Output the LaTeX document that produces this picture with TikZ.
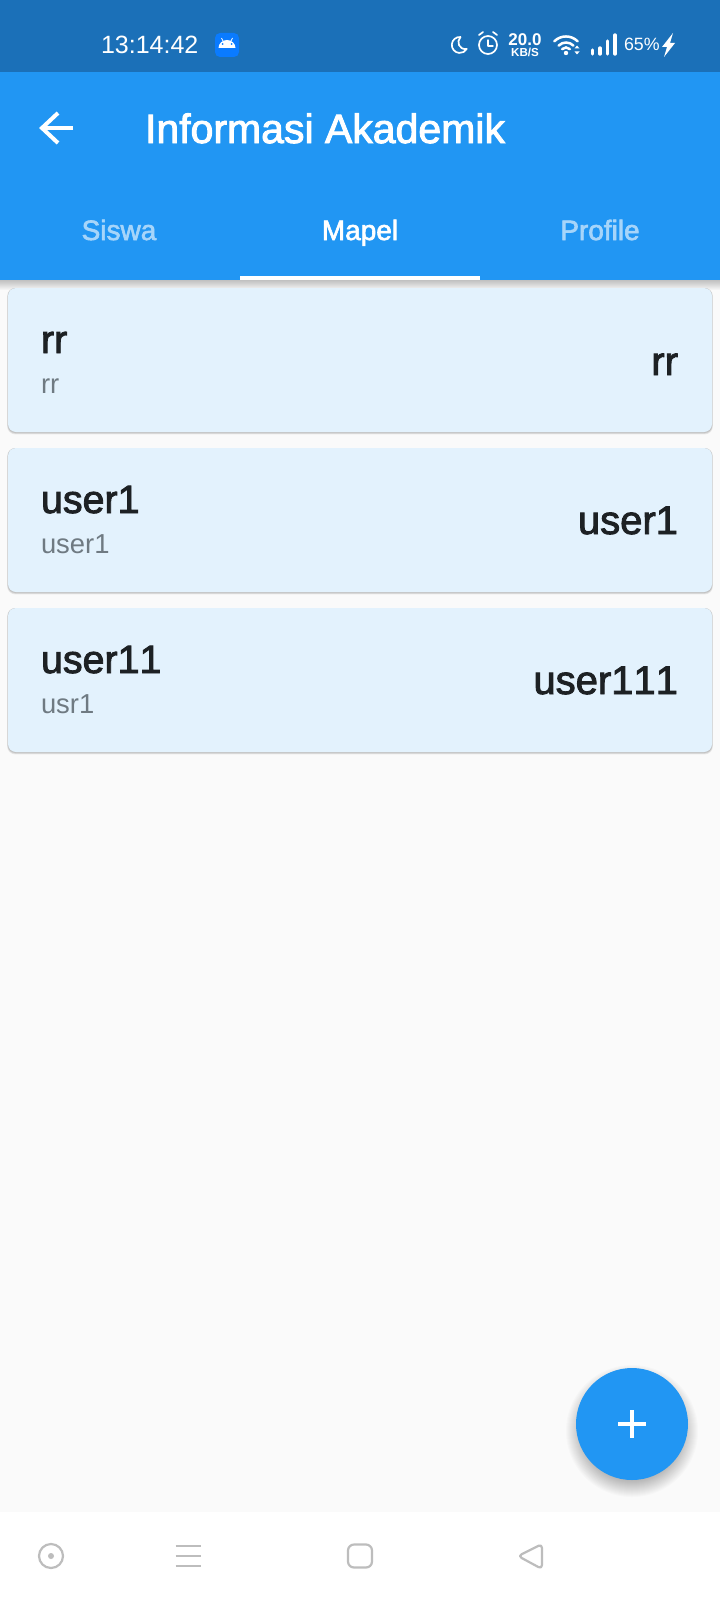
\documentclass[tikz,border=0pt]{standalone}
\usepackage{fontspec}
\setmainfont{Liberation Sans}
\newfontfamily\medfont[FakeBold=2.2]{Liberation Sans}
\newfontfamily\cardfont[FakeBold=2.2,Kerning=Off]{Liberation Sans}
\usetikzlibrary{backgrounds,fit}
\pgfdeclarelayer{edgelayer}
\pgfdeclarelayer{nodelayer}
\pgfsetlayers{edgelayer,main,nodelayer}
\definecolor{pagegrey}{HTML}{FAFAFA}
\definecolor{statusblue}{HTML}{1B70B8}
\definecolor{barblue}{HTML}{2196F3}
\definecolor{cardblue}{HTML}{E3F2FD}
\definecolor{inktext}{HTML}{1D2124}
\definecolor{subtext}{HTML}{6F7A82}
\definecolor{tabdim}{HTML}{A6D5FA}
\definecolor{navgrey}{HTML}{BDBDBD}
\definecolor{droidblue}{HTML}{0A7BFF}
\tikzstyle{none}=[inner sep=0pt,outer sep=0pt]
\tikzstyle{band}=[none,anchor=north west]
\tikzstyle{card}=[band,fill=cardblue,rounded corners=4pt,minimum width=352pt,minimum height=72pt]
\tikzstyle{cardtitle}=[none,anchor=base west,text=inktext,font=\cardfont\fontsize{19.7}{24}\selectfont]
\tikzstyle{cardsub}=[none,anchor=base west,text=subtext,font=\fontsize{13.7}{18}\selectfont]
\tikzstyle{cardside}=[none,anchor=base east,text=inktext,font=\cardfont\fontsize{20}{24}\selectfont]
\tikzstyle{tab}=[none,anchor=base,text=tabdim,font=\medfont\fontsize{14}{17}\selectfont]
\tikzstyle{stat}=[none,text=white]
\tikzstyle{navicon}=[draw=navgrey,line width=1.1pt,line join=round]
\tikzstyle{staticon}=[draw=white,line width=1.25pt,line cap=round]
\tikzstyle{thinicon}=[draw=white,line width=0.85pt,line cap=round,line join=round]

\begin{document}
\begin{tikzpicture}[x=0.5pt,y=-0.5pt]
	\useasboundingbox (0,0) rectangle (720,1600);
	\begin{pgfonlayer}{edgelayer}
		\fill[pagegrey] (0,0) rectangle (720,1600);
		% soft shadows
		\foreach \i in {1,...,10} {
			\fill[black,opacity=0.022] (0,280) rectangle (720,280+\i);
		}
		\foreach \top/\bot in {288/432,448/592,608/752} {
			\foreach \i in {1,...,4} {
				\fill[black,opacity=0.065,rounded corners=4pt] (8-\i*0.2,\top) rectangle (712+\i*0.2,\bot+\i*0.6);
			}
		}
		\foreach \i in {1,...,20} {
			\fill[black,opacity=0.014] (632,1431) circle (46+\i*1.0);
		}
	\end{pgfonlayer}
	\begin{pgfonlayer}{nodelayer}
		\node [style=band,fill=statusblue,minimum width=360pt,minimum height=36pt] (status) at (0,0) {};
		\node [style=band,fill=barblue,minimum width=360pt,minimum height=104pt] (bar) at (0,72) {};
		\node [style=band,fill=white,minimum width=120pt,minimum height=2pt] (underline) at (240,276) {};
		\node [style=card] (card1) at (8,288) {};
		\node [style=card] (card2) at (8,448) {};
		\node [style=card] (card3) at (8,608) {};
		\node [style=band,fill=white,minimum width=360pt,minimum height=44pt] (nav) at (0,1512) {};
		\node [circle,fill=barblue,none,minimum size=56pt] (fab) at (632,1424) {};

		% status bar
		\node [style=stat,anchor=base west,font=\fontsize{12.5}{15}\selectfont] (clock) at (101,54) {13:14:42};
		\node [style=band,fill=droidblue,rounded corners=2.5pt,minimum size=12pt] (droid) at (215,33) {};
		\node [style=stat,anchor=base,font=\bfseries\fontsize{8.5}{10}\selectfont] (speed) at (525,46) {20.0};
		\node [style=stat,anchor=base,font=\bfseries\fontsize{5.8}{6}\selectfont] (unit) at (525,56.5) {KB/S};
		\node [style=stat,anchor=base west,font=\fontsize{8.9}{11}\selectfont] (batt) at (624,51) {65\%};

		% app bar
		\node [style=none,anchor=base west,text=white,font=\medfont\fontsize{20.5}{24}\selectfont] (title) at (145,143) {Informasi Akademik};
		\node [style=tab] (siswa) at (119,240) {Siswa};
		\node [style=tab,text=white] (mapel) at (360,240) {Mapel};
		\node [style=tab] (profile) at (600,240) {Profile};

		% cards
		\node [style=cardtitle] (rr1) at (41,353) {rr};
		\node [style=cardsub] (rr2) at (41,393) {rr};
		\node [style=cardside] (rr3) at (678,375) {rr};
		\node [style=cardtitle] (user1) at (41,513) {user1};
		\node [style=cardsub] (user2) at (41,553) {user1};
		\node [style=cardside] (user3) at (678,534) {user1};
		\node [style=cardtitle] (user4) at (41,673) {user11};
		\node [style=cardsub] (user5) at (41,713) {usr1};
		\node [style=cardside] (user6) at (678,694) {user111};
	\end{pgfonlayer}
	\begin{pgfonlayer}{nodelayer}
		% back arrow and plus
		\draw[white,line width=2pt] (73,128) -- (42,128);
		\draw[white,line width=2pt] (58,113) -- (42,128) -- (58,143);
		\draw[white,line width=2pt] (618,1424) -- (646,1424);
		\draw[white,line width=2pt] (632,1410) -- (632,1438);

		% droid glyph
		\fill[white] (218.5,48) arc (180:360:8.5 and 8) -- cycle;
		\fill[droidblue] (222.5,44) circle (1) (231.5,44) circle (1);
		\draw[white,line width=0.4pt] (223,41) -- (221.5,38) (231,41) -- (232.5,38);

		% moon, alarm, wifi, signal, bolt
		\draw[thinicon] (460.5,37) arc (275:30:8) .. controls (459,50) and (456,42) .. (460.5,37);
		\draw[thinicon] (488,45) circle (9);
		\draw[thinicon,line width=0.7pt] (488,40) -- (488,46) -- (493,46);
		\draw[thinicon] (479,35) -- (483,32) (497,35) -- (493,32);
		\draw[staticon] (554.3,41.3) arc (225:315:16.5);
		\draw[staticon] (558.6,45.6) arc (225:315:10.5);
		\draw[staticon] (562.1,49.1) arc (225:315:5.5);
		\fill[white] (566,53) circle (2.2);
		\fill[white] (574.5,48.5) -- (577,45.5) -- (579.5,48.5) -- cycle (574.5,51.5) -- (577,54.5) -- (579.5,51.5) -- cycle;
		\foreach \barx/\bartop in {592.5/50,600/48,607.5/41,615/35} {
			\draw[white,line width=1.7pt,line cap=round] (\barx,54) -- (\barx,\bartop);
		}
		\fill[white] (673,33) -- (662,47) -- (667,47) -- (664,57) -- (675,43) -- (670,43) -- cycle;

		% navigation keys
		\draw[navicon] (51,1556) circle (12);
		\fill[navgrey] (51,1556) circle (3);
		\foreach \navy in {1546,1556,1566} {
			\draw[navicon] (175.5,\navy) -- (200.5,\navy);
		}
		\draw[navicon,rounded corners=3pt] (348,1544.5) rectangle (372,1567.5);
		\draw[navicon,rounded corners=2pt] (542,1544) -- (518,1556) -- (542,1569) -- cycle;
	\end{pgfonlayer}
\end{tikzpicture}
\end{document}
